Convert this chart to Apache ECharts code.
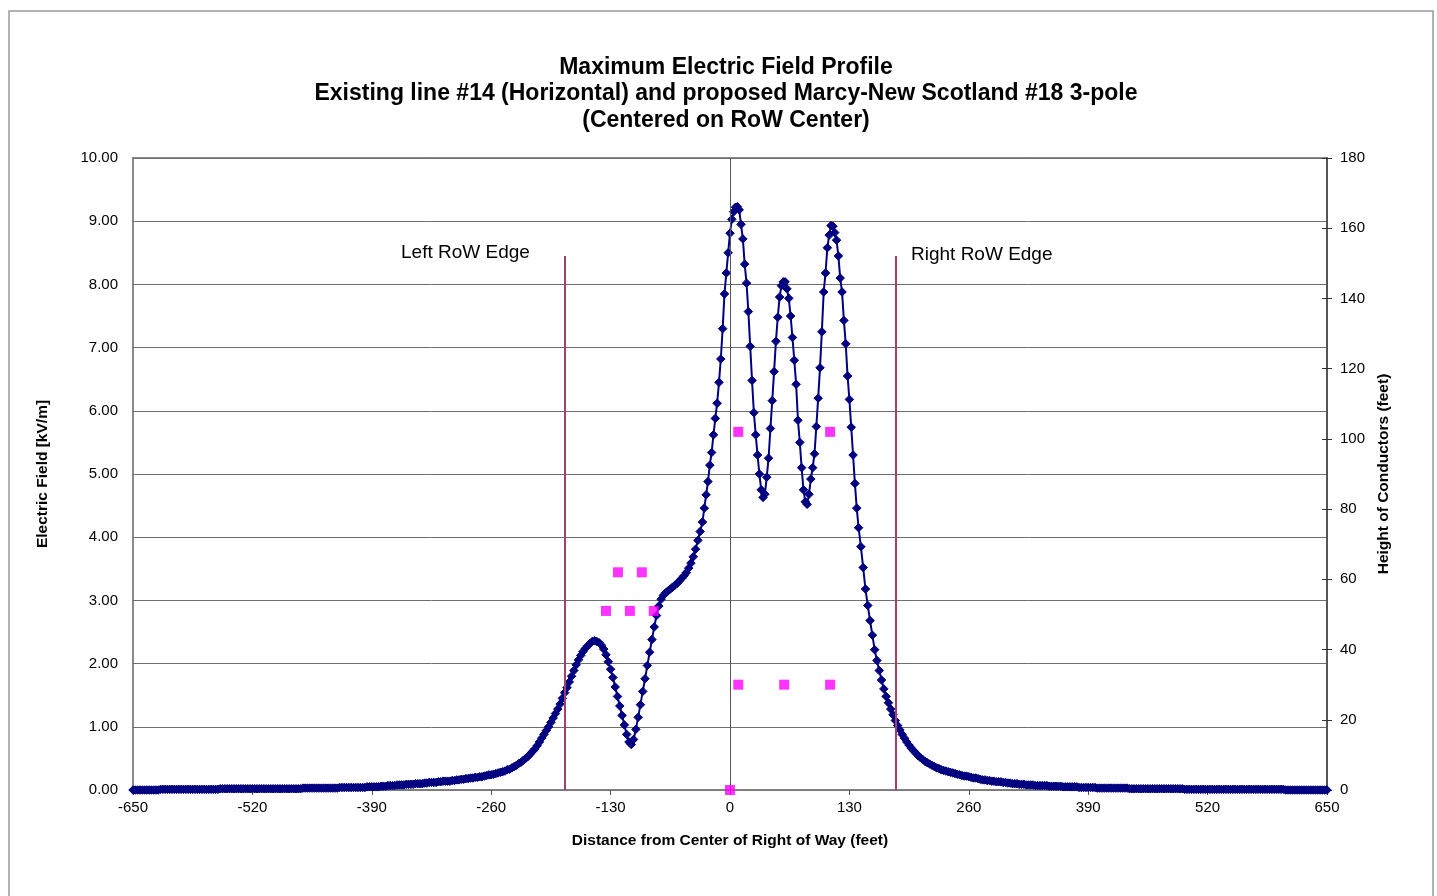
<!DOCTYPE html>
<html>
<head>
<meta charset="utf-8">
<title>Maximum Electric Field Profile</title>
<script src="https://cdn.jsdelivr.net/npm/echarts@6/dist/echarts.min.js"></script>
<style>
  html, body { margin: 0; padding: 0; background: #ffffff; }
  #chart { width: 1437px; height: 896px; }
</style>
</head>
<body>
<div id="chart"></div>
<script>
// ---- Electric field profile (distance in feet, field in kV/m) ----
// West tail, 2.5 ft spacing
const westTailFt = [
  -650,-647.5,-645,-642.5,-640,-637.5,-635,-632.5,-630,-627.5,-625,-622.5,
  -620,-617.5,-615,-612.5,-610,-607.5,-605,-602.5,-600,-597.5,-595,-592.5,-590,-587.5,-585,-582.5,-580,-577.5,-575,-572.5,-570,-567.5,-565,-562.5,-560,-557.5,
  -555,-552.5,-550,-547.5,-545,-542.5,-540,-537.5,-535,-532.5,-530,-527.5,-525,-522.5,-520,-517.5,-515,-512.5,-510,-507.5,-505,-502.5,-500,-497.5,-495,-492.5,-490,-487.5,-485,-482.5,-480,-477.5,-475,-472.5,-470,-467.5,
  -465,-462.5,-460,-457.5,-455,-452.5,-450,-447.5,-445,-442.5,-440,-437.5,-435,-432.5,-430,-427.5,
  -425,-422.5,-420,-417.5,-415,-412.5,-410,-407.5,-405,-402.5,-400,-397.5,
  -395,-392.5,-390,-387.5,-385,-382.5,
  -380,-377.5,-375,-372.5,-370,-367.5,-365,-362.5,-360,-357.5,
  -355,-352.5,-350,-347.5,-345,-342.5,-340,-337.5,-335,-332.5,
  -330,-327.5,-325,-322.5,-320,-317.5,-315,-312.5,-310,-307.5,
  -305,-302.5,-300,-297.5,-295,-292.5,-290,-287.5,-285,-282.5,
  -280,-277.5,-275,-272.5,-270,-267.5,-265,-262.5,-260,-257.5,
  -255,-252.5,-250,-247.5,-245,-242.5,-240,-237.5,-235,-232.5,
  -230,-227.5,-225,-222.5,-220,-217.5,-215,-212.5];
const westTailKv = [
  0.00,0.00,0.00,0.00,0.00,0.00,0.00,0.00,0.00,0.00,0.00,0.00,
  0.01,0.01,0.01,0.01,0.01,0.01,0.01,0.01,0.01,0.01,0.01,0.01,0.01,0.01,0.01,0.01,0.01,0.01,0.01,0.01,0.01,0.01,0.01,0.01,0.01,0.01,
  0.02,0.02,0.02,0.02,0.02,0.02,0.02,0.02,0.02,0.02,0.02,0.02,0.02,0.02,0.02,0.02,0.02,0.02,0.02,0.02,0.02,0.02,0.02,0.02,0.02,0.02,0.02,0.02,0.02,0.02,0.02,0.02,0.02,0.02,0.02,0.02,
  0.03,0.03,0.03,0.03,0.03,0.03,0.03,0.03,0.03,0.03,0.03,0.03,0.03,0.03,0.03,0.03,
  0.04,0.04,0.04,0.04,0.04,0.04,0.04,0.04,0.04,0.04,0.04,0.04,
  0.05,0.05,0.05,0.05,0.05,0.05,
  0.06,0.06,0.06,0.07,0.07,0.07,0.07,0.08,0.08,0.08,
  0.08,0.09,0.09,0.09,0.09,0.10,0.10,0.10,0.10,0.11,
  0.11,0.12,0.12,0.12,0.12,0.13,0.13,0.14,0.14,0.14,
  0.14,0.15,0.15,0.16,0.16,0.17,0.17,0.18,0.18,0.19,
  0.19,0.20,0.20,0.21,0.21,0.22,0.23,0.24,0.24,0.25,
  0.26,0.27,0.28,0.29,0.30,0.32,0.33,0.35,0.37,0.39,
  0.42,0.44,0.47,0.50,0.53,0.57,0.61,0.65];

// Existing line #14 side, 2.5 ft spacing
const westCoreFt = [-210,-207.5,-205,-202.5,-200,-197.5,-195,-192.5,-190,-187.5,-185,-182.5,-180,-177.5,-175,-172.5,
  -170,-167.5,-165,-162.5,-160,-157.5,-155,-152.5,-150,-147.5,-145,-142.5,-140,-137.5,-135,-132.5,
  -130,-127.5,-125,-122.5,-120,-117.5,-115,-112.5,-110,-107.5,-105,-102.5,-100,-97.5,-95,-92.5,
  -90,-87.5,-85,-82.5,-80,-77.5,-75,-72.5,-70,-67.5,-65,-62.5,-60,-57.5,-55,-52.5,
  -50,-47.5,-45,-42.5,-40,-37.5,-35,-32.5,-30];
const westCoreKv = [0.70,0.76,0.82,0.88,0.94,1.00,1.07,1.14,1.21,1.28,1.36,1.45,1.54,1.62,1.71,1.80,
  1.89,1.98,2.06,2.13,2.19,2.24,2.28,2.32,2.35,2.36,2.35,2.33,2.29,2.23,2.14,2.03,
  1.91,1.78,1.63,1.48,1.33,1.18,1.03,0.88,0.76,0.72,0.80,0.96,1.15,1.35,1.56,1.76,
  1.97,2.18,2.38,2.58,2.76,2.91,3.02,3.08,3.12,3.15,3.18,3.21,3.24,3.27,3.31,3.35,
  3.39,3.44,3.51,3.59,3.69,3.81,3.95,4.09,4.24];

// Proposed 3-pole line peaks, 2 ft spacing
const peakFt = [-28,-26,-24,-22,-20,-18,-16,-14,-12,-10,-8,-6,-4,-2,0,2,4,6,8,10,12,14,16,18,20,
  22,24,26,28,30,32,34,36,38,40,42,44,46,48,50,52,54,56,58,60,62,64,66,68,70,
  72,74,76,78,80,82,84,86,88,90,92,94,96,98,100,102,104,106,108,110,112,114,116,118,120,
  122,124,126,128,130,132,134,136,138,140];
const peakKv = [4.46,4.67,4.88,5.14,5.34,5.62,5.88,6.12,6.45,6.82,7.30,7.85,8.18,8.50,8.81,9.03,9.15,9.22,9.23,9.18,8.95,8.72,8.32,8.02,7.57,
  7.02,6.48,5.97,5.62,5.30,5.00,4.75,4.63,4.68,4.95,5.25,5.72,6.16,6.62,7.10,7.48,7.80,7.98,8.04,8.04,7.93,7.78,7.50,7.16,6.80,
  6.42,5.85,5.50,5.10,4.75,4.56,4.52,4.68,4.92,5.10,5.32,5.75,6.20,6.68,7.25,7.88,8.18,8.58,8.78,8.93,8.92,8.82,8.70,8.45,8.10,
  7.88,7.43,7.06,6.55,6.18,5.74,5.30,4.85,4.46,4.15];

// East flank, 2.5 ft spacing
const eastCoreFt = [142.5,145,147.5,150,152.5,155,157.5,160,162.5,165,167.5,170,172.5,175,177.5,180,
  182.5,185,187.5,190,192.5,195,197.5,200,202.5,205,207.5,210,212.5,215,217.5,220,222.5,225,227.5,230];
const eastCoreKv = [3.85,3.52,3.18,2.92,2.68,2.45,2.22,2.05,1.89,1.74,1.60,1.48,1.38,1.28,1.19,1.10,
  1.02,0.95,0.88,0.82,0.76,0.71,0.66,0.62,0.58,0.54,0.51,0.48,0.45,0.43,0.41,0.39,0.37,0.35,0.34,0.32];

// East tail, 2.5 ft spacing
const eastTailFt = [
  232.5,235,237.5,240,242.5,245,247.5,250,252.5,255,
  257.5,260,262.5,265,267.5,270,272.5,275,277.5,280,
  282.5,285,287.5,290,292.5,295,297.5,300,302.5,305,
  307.5,310,312.5,315,317.5,320,322.5,325,327.5,330,
  332.5,335,337.5,340,342.5,345,347.5,350,352.5,355,
  357.5,360,362.5,365,367.5,370,372.5,375,377.5,
  380,382.5,385,387.5,390,392.5,395,397.5,
  400,402.5,405,407.5,410,412.5,415,417.5,420,422.5,425,427.5,430,432.5,
  435,437.5,440,442.5,445,447.5,450,452.5,455,457.5,460,462.5,465,467.5,470,472.5,475,477.5,480,482.5,485,487.5,490,492.5,
  495,497.5,500,502.5,505,507.5,510,512.5,515,517.5,520,522.5,525,527.5,530,532.5,535,537.5,540,542.5,545,547.5,
  550,552.5,555,557.5,560,562.5,565,567.5,570,572.5,575,577.5,580,582.5,585,587.5,590,592.5,595,597.5,600,602.5,
  605,607.5,610,612.5,615,617.5,620,622.5,625,627.5,630,632.5,635,637.5,640,642.5,645,647.5,650];
const eastTailKv = [
  0.31,0.30,0.29,0.28,0.27,0.26,0.25,0.24,0.23,0.22,
  0.22,0.21,0.20,0.19,0.19,0.18,0.17,0.16,0.16,0.15,
  0.15,0.14,0.14,0.13,0.13,0.13,0.12,0.12,0.11,0.11,
  0.10,0.10,0.10,0.09,0.09,0.09,0.08,0.08,0.08,0.08,
  0.07,0.07,0.07,0.07,0.07,0.07,0.06,0.06,0.06,0.06,
  0.06,0.06,0.05,0.05,0.05,0.05,0.05,0.05,0.05,
  0.04,0.04,0.04,0.04,0.04,0.04,0.04,0.04,
  0.03,0.03,0.03,0.03,0.03,0.03,0.03,0.03,0.03,0.03,0.03,0.03,0.03,0.03,
  0.02,0.02,0.02,0.02,0.02,0.02,0.02,0.02,0.02,0.02,0.02,0.02,0.02,0.02,0.02,0.02,0.02,0.02,0.02,0.02,0.02,0.02,0.02,0.02,
  0.01,0.01,0.01,0.01,0.01,0.01,0.01,0.01,0.01,0.01,0.01,0.01,0.01,0.01,0.01,0.01,0.01,0.01,0.01,0.01,0.01,0.01,
  0.01,0.01,0.01,0.01,0.01,0.01,0.01,0.01,0.01,0.01,0.01,0.01,0.01,0.01,0.01,0.01,0.01,0.01,0.01,0.01,0.01,0.01,
  0.00,0.00,0.00,0.00,0.00,0.00,0.00,0.00,0.00,0.00,0.00,0.00,0.00,0.00,0.00,0.00,0.00,0.00,0.00];

// ---- Conductor positions (distance in feet, height in feet) ----
const conductorFt     = [0, -135, -109, -83, -122, -96, 9, 59, 109, 9, 109];
const conductorHeight = [0,   51,   51,  51,   62,  62, 30, 30, 30, 102, 102];

// ---- Right-of-way edges ----
const rowEdgeFt = [-180, 180];
const rowEdgeTopKv = 8.45;

// ---- Axis ranges ----
const distanceRange = { min: -650, max: 650, interval: 130 };
const fieldRange = { min: 0, max: 10, interval: 1 };
const heightRange = { min: 0, max: 180, interval: 20 };

const profileFt = [].concat(westTailFt, westCoreFt, peakFt, eastCoreFt, eastTailFt);
const profileKv = [].concat(westTailKv, westCoreKv, peakKv, eastCoreKv, eastTailKv);
if (profileFt.length !== profileKv.length) {
  throw new Error('profile length mismatch: ' + profileFt.length + ' vs ' + profileKv.length);
}
const profileData = profileFt.map((x, i) => [x, profileKv[i]]);
const conductorData = conductorFt.map((x, i) => [x, conductorHeight[i]]);

const FONT = '"Liberation Sans", Arial, "DejaVu Sans", sans-serif';
const chart = echarts.init(document.getElementById('chart'), null, { renderer: 'canvas' });

chart.setOption({
  animation: false,
  backgroundColor: '#ffffff',
  title: {
    text: 'Maximum Electric Field Profile\nExisting line #14 (Horizontal) and proposed Marcy-New Scotland #18 3-pole\n(Centered on RoW Center)',
    left: 721,
    top: 49,
    textAlign: 'center',
    textStyle: { fontFamily: FONT, fontSize: 23, fontWeight: 'bold', color: '#000', lineHeight: 26.5 }
  },
  graphic: [
    { type: 'rect', shape: { x: 9, y: 11, width: 1424, height: 900 }, style: { fill: 'none', stroke: '#9a9a9a', lineWidth: 1.5 }, z: -1 },
    { type: 'text', left: 401, top: 243, style: { text: 'Left RoW Edge', font: '19px ' + FONT, fill: '#000' } },
    { type: 'text', left: 911, top: 245, style: { text: 'Right RoW Edge', font: '19px ' + FONT, fill: '#000' } }
  ],
  grid: {
    left: 133, right: 110, top: 158, bottom: 106,
    show: true, borderColor: '#8a8a8a', borderWidth: 2, backgroundColor: 'transparent'
  },
  xAxis: {
    type: 'value',
    min: distanceRange.min, max: distanceRange.max, interval: distanceRange.interval,
    name: 'Distance from Center of Right of Way (feet)',
    nameLocation: 'middle', nameGap: 43,
    nameTextStyle: { fontFamily: FONT, fontSize: 15.5, fontWeight: 'bold', color: '#000' },
    axisLine: { show: true, onZero: false, lineStyle: { color: '#808080', width: 1.5 } },
    axisTick: { show: true, inside: false, length: 5, lineStyle: { color: '#555' } },
    axisLabel: { fontFamily: FONT, fontSize: 15, color: '#000', margin: 10 },
    splitLine: { show: false }
  },
  yAxis: [
    {
      type: 'value',
      min: fieldRange.min, max: fieldRange.max, interval: fieldRange.interval,
      position: 'left',
      name: 'Electric Field [kV/m]',
      nameLocation: 'middle', nameGap: 82, nameRotate: 90,
      nameTextStyle: { fontFamily: FONT, fontSize: 15.5, fontWeight: 'bold', color: '#000' },
      axisLine: { show: false },
      axisTick: { show: false },
      axisLabel: { fontFamily: FONT, fontSize: 15, color: '#000', margin: 15, formatter: v => v.toFixed(2) },
      splitLine: { show: true, lineStyle: { color: '#6e6e6e', width: 1 } }
    },
    {
      type: 'value',
      min: heightRange.min, max: heightRange.max, interval: heightRange.interval,
      position: 'right',
      name: 'Height of Conductors (feet)',
      nameLocation: 'middle', nameGap: 46, nameRotate: 90,
      nameTextStyle: { fontFamily: FONT, fontSize: 15.5, fontWeight: 'bold', color: '#000' },
      axisLine: { show: true, lineStyle: { color: '#555', width: 2 } },
      axisTick: { show: true, inside: false, length: 5, lineStyle: { color: '#333' } },
      axisLabel: { fontFamily: FONT, fontSize: 15, color: '#000', margin: 13 },
      splitLine: { show: false }
    },
    {
      // inner half of the crossing tick marks on the height axis
      type: 'value',
      min: heightRange.min, max: heightRange.max, interval: heightRange.interval,
      position: 'right',
      axisLine: { show: false },
      axisTick: { show: true, inside: true, length: 5, lineStyle: { color: '#333' } },
      axisLabel: { show: false },
      splitLine: { show: false }
    }
  ],
  series: [
    {
      name: 'Electric Field',
      type: 'line',
      xAxisIndex: 0,
      yAxisIndex: 0,
      data: profileData,
      smooth: false,
      symbol: 'diamond',
      symbolSize: 8.5,
      showAllSymbol: true,
      lineStyle: { color: '#000080', width: 2 },
      itemStyle: { color: '#000080', borderColor: '#000080' },
      z: 3,
      markLine: {
        silent: true,
        symbol: ['none', 'none'],
        label: { show: false },
        data: [
          [{ coord: [0, fieldRange.min], lineStyle: { color: '#555', width: 1, type: 'solid' } },
           { coord: [0, fieldRange.max] }],
          [{ coord: [rowEdgeFt[0], 0], lineStyle: { color: '#a0406e', width: 2, type: 'solid' } },
           { coord: [rowEdgeFt[0], rowEdgeTopKv] }],
          [{ coord: [rowEdgeFt[1], 0], lineStyle: { color: '#a0406e', width: 2, type: 'solid' } },
           { coord: [rowEdgeFt[1], rowEdgeTopKv] }]
        ]
      }
    },
    {
      name: 'Conductor Height',
      type: 'scatter',
      xAxisIndex: 0,
      yAxisIndex: 1,
      data: conductorData,
      symbol: 'rect',
      symbolSize: 10,
      itemStyle: { color: '#ff00ff' },
      z: 5
    }
  ]
});
</script>
</body>
</html>
